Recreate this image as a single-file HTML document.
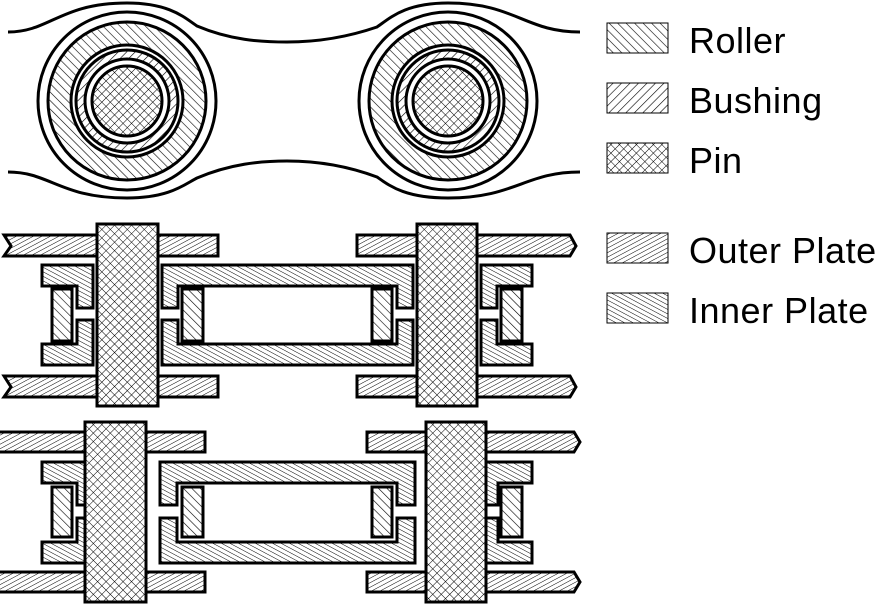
<!DOCTYPE html>
<html><head><meta charset="utf-8"><style>
html,body{margin:0;padding:0;background:#fff;}
svg{display:block;}
text{font-family:"Liberation Sans",sans-serif;font-size:36px;fill:#000;letter-spacing:0.5px;}
</style></head><body>
<svg width="890" height="605" viewBox="0 0 890 605" xmlns="http://www.w3.org/2000/svg">
<defs>
<pattern id="roller" patternUnits="userSpaceOnUse" width="6" height="6" patternTransform="rotate(-45)"><rect width="6" height="6" fill="#fff"/><line x1="0" y1="0" x2="0" y2="6" stroke="#000" stroke-width="1.2"/></pattern>
<pattern id="bush" patternUnits="userSpaceOnUse" width="6" height="6" patternTransform="rotate(45)"><rect width="6" height="6" fill="#fff"/><line x1="0" y1="0" x2="0" y2="6" stroke="#000" stroke-width="1.2"/></pattern>
<pattern id="pin" patternUnits="userSpaceOnUse" width="6" height="6" patternTransform="rotate(45)"><rect width="6" height="6" fill="#fff"/><line x1="0" y1="0" x2="0" y2="6" stroke="#000" stroke-width="1"/><line x1="0" y1="0" x2="6" y2="0" stroke="#000" stroke-width="1"/></pattern>
<pattern id="outer" patternUnits="userSpaceOnUse" width="4" height="4" patternTransform="rotate(62)"><rect width="4" height="4" fill="#fff"/><line x1="0" y1="0" x2="0" y2="4" stroke="#000" stroke-width="1"/></pattern>
<pattern id="inner" patternUnits="userSpaceOnUse" width="4" height="4" patternTransform="rotate(-62)"><rect width="4" height="4" fill="#fff"/><line x1="0" y1="0" x2="0" y2="4" stroke="#000" stroke-width="1"/></pattern>
</defs>

<!-- TOP VIEW -->
<g fill="none" stroke="#000" stroke-width="3">
<path d="M8,32 C50,32 60,3 127,3 C170,3 185,18 197,26 C230,40 260,42 287,42 C315,42 345,38 377,27 C390,18 405,3 448,3 C515,3 525,32 580,32"/>
<path d="M8,172 C50,172 60,198 127,198 C170,198 185,184 197,178 C230,164 260,161 287,161 C315,161 345,165 377,177 C390,186 405,198 448,198 C515,198 525,172 580,172"/>
</g>
<g stroke="#000" stroke-width="3">
<circle cx="127" cy="101" r="89" fill="#fff"/>
<circle cx="127" cy="101" r="79" fill="url(#roller)"/>
<circle cx="127" cy="101" r="56" fill="#fff"/>
<circle cx="127" cy="101" r="51" fill="url(#bush)"/>
<circle cx="127" cy="101" r="42" fill="#fff"/>
<circle cx="127" cy="101" r="35" fill="url(#pin)"/>
<circle cx="448" cy="101" r="89" fill="#fff"/>
<circle cx="448" cy="101" r="79" fill="url(#roller)"/>
<circle cx="448" cy="101" r="56" fill="#fff"/>
<circle cx="448" cy="101" r="51" fill="url(#bush)"/>
<circle cx="448" cy="101" r="42" fill="#fff"/>
<circle cx="448" cy="101" r="35" fill="url(#pin)"/>
</g>

<!-- MIDDLE SECTION -->
<g stroke="#000" stroke-width="3">
<polygon fill="url(#outer)" points="4,235 218,235 218,256 4,256 11,246"/>
<polygon fill="url(#outer)" points="4,376 218,376 218,397 4,397 11,387"/>
<polygon fill="url(#outer)" points="357,235 570,235 576,246 570,256 357,256"/>
<polygon fill="url(#outer)" points="357,376 570,376 576,387 570,397 357,397"/>
<polygon fill="url(#inner)" points="42,265 93,265 93,308 77,308 77,286 42,286"/>
<polygon fill="url(#inner)" points="42,365 93,365 93,320 77,320 77,344 42,344"/>
<polygon fill="url(#inner)" points="162,265 413,265 413,308 397,308 397,286 178,286 178,308 162,308"/>
<polygon fill="url(#inner)" points="162,365 413,365 413,320 397,320 397,344 178,344 178,320 162,320"/>
<polygon fill="url(#inner)" points="481,265 532,265 532,286 497,286 497,308 481,308"/>
<polygon fill="url(#inner)" points="481,365 532,365 532,344 497,344 497,320 481,320"/>
<rect x="52" y="289" width="20" height="52" fill="url(#roller)"/>
<rect x="182" y="289" width="21" height="52" fill="url(#roller)"/>
<rect x="372" y="289" width="20" height="52" fill="url(#roller)"/>
<rect x="501" y="289" width="21" height="52" fill="url(#roller)"/>
<rect x="97" y="224" width="61" height="182" fill="url(#pin)"/>
<rect x="417" y="224" width="60" height="182" fill="url(#pin)"/>
</g>

<!-- BOTTOM SECTION -->
<g stroke="#000" stroke-width="3">
<rect x="-3" y="432" width="208" height="20" fill="url(#outer)"/>
<rect x="-3" y="572" width="208" height="20" fill="url(#outer)"/>
<polygon fill="url(#outer)" points="367,432 574,432 580,442 574,452 367,452"/>
<polygon fill="url(#outer)" points="367,572 574,572 580,582 574,592 367,592"/>
<polygon fill="url(#inner)" points="42,462 92,462 92,505 77,505 77,483 42,483"/>
<polygon fill="url(#inner)" points="42,563 92,563 92,518 77,518 77,542 42,542"/>
<polygon fill="url(#inner)" points="160,462 415,462 415,505 397,505 397,483 177,483 177,505 160,505"/>
<polygon fill="url(#inner)" points="160,563 415,563 415,518 397,518 397,542 177,542 177,518 160,518"/>
<polygon fill="url(#inner)" points="482,462 532,462 532,483 498,483 498,505 482,505"/>
<polygon fill="url(#inner)" points="482,563 532,563 532,542 498,542 498,518 482,518"/>
<rect x="52" y="487" width="20" height="50" fill="url(#roller)"/>
<rect x="182" y="487" width="21" height="50" fill="url(#roller)"/>
<rect x="372" y="487" width="20" height="50" fill="url(#roller)"/>
<rect x="501" y="487" width="21" height="50" fill="url(#roller)"/>
<rect x="85" y="422" width="61" height="180" fill="url(#pin)"/>
<rect x="426" y="422" width="60" height="180" fill="url(#pin)"/>
</g>

<!-- LEGEND -->
<g stroke="#000" stroke-width="1">
<rect x="607" y="23" width="61" height="30" fill="url(#roller)"/>
<rect x="607" y="83" width="61" height="30" fill="url(#bush)"/>
<rect x="607" y="143" width="61" height="30" fill="url(#pin)"/>
<rect x="607" y="233" width="61" height="30" fill="url(#outer)"/>
<rect x="607" y="293" width="61" height="30" fill="url(#inner)"/>
</g>
<text x="689" y="53">Roller</text>
<text x="689" y="113">Bushing</text>
<text x="689" y="173">Pin</text>
<text x="689" y="263">Outer Plate</text>
<text x="689" y="323">Inner Plate</text>
</svg>
</body></html>
